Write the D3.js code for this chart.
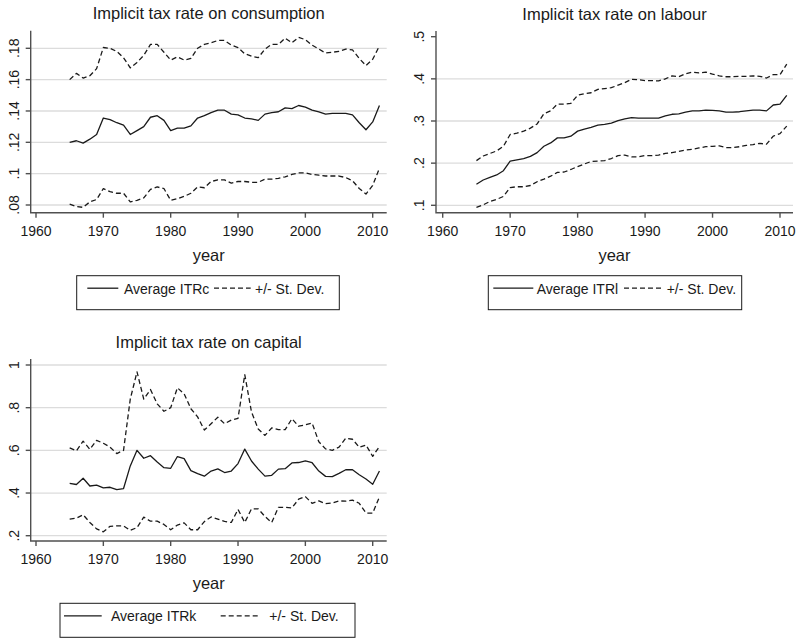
<!DOCTYPE html>
<html>
<head>
<meta charset="utf-8">
<script src="https://cdn.jsdelivr.net/npm/d3@7/dist/d3.min.js"></script>
<style>
body { margin: 0; background: #fff; }
svg { display: block; font-family: "Liberation Sans", Arial, sans-serif; }
.grid { stroke: #dcdcdc; stroke-width: 1.3; }
.axis-line { stroke: #505050; stroke-width: 1.4; fill: none; }
.tick-label { font-size: 14px; fill: #1a1a1a; }
.panel-title, .axis-title { font-size: 16.5px; fill: #1a1a1a; }
.series { fill: none; stroke: #1a1a1a; stroke-width: 1.3; stroke-linejoin: round; }
.series.dashed { stroke-dasharray: 5,3; }
.legend-box { fill: #fff; stroke: #1a1a1a; stroke-width: 1; }
.legend-label { font-size: 14px; fill: #1a1a1a; }
</style>
</head>
<body>
<script>
var years = [1965, 1966, 1967, 1968, 1969, 1970, 1971, 1972, 1973, 1974,
    1975, 1976, 1977, 1978, 1979, 1980, 1981, 1982, 1983, 1984,
    1985, 1986, 1987, 1988, 1989, 1990, 1991, 1992, 1993, 1994,
    1995, 1996, 1997, 1998, 1999, 2000, 2001, 2002, 2003, 2004,
    2005, 2006, 2007, 2008, 2009, 2010, 2011];

var xTicks = [1960, 1970, 1980, 1990, 2000, 2010];

// consumption
var itrcMean = [.120, .121, .1195, .122, .125, .1355, .1345, .1325, .131, .125,
    .1275, .130, .136, .137, .134, .1275, .129, .129, .1305, .1355,
    .137, .139, .1405, .1405, .138, .1375, .1355, .135, .134, .138,
    .139, .1395, .142, .1415, .1435, .1425, .1405, .1395, .138, .1385,
    .1385, .1385, .1375, .1325, .128, .133, .1435];
var itrcUpper = [.160, .164, .161, .1625, .167, .1805, .180, .178, .174, .1675,
    .171, .1755, .1825, .1825, .1775, .1725, .1745, .1725, .1735, .180,
    .1825, .1835, .185, .185, .182, .1805, .1765, .175, .174, .1795,
    .1825, .1825, .1865, .1835, .187, .1855, .182, .1795, .177, .1775,
    .178, .1795, .179, .1735, .169, .173, .1815];
var itrcLower = [.0805, .079, .0785, .082, .0835, .0905, .0885, .0875, .0875, .082,
    .083, .0845, .090, .0915, .0905, .083, .084, .0855, .0875, .0915,
    .091, .095, .096, .096, .094, .095, .095, .0945, .0945, .0965,
    .0965, .097, .098, .0995, .1005, .1005, .0995, .099, .0985, .0985,
    .0985, .0975, .0955, .0905, .087, .0925, .1035];
var itrcTicks = [.08, .10, .12, .14, .16, .18];
var itrcTickLabels = ['.08', '.1', '.12', '.14', '.16', '.18'];
var itrcGrid = [.08, .10, .12, .14, .16, .18];

// labour
var itrlMean = [.150, .160, .166, .172, .182, .205, .208, .211, .216, .225,
    .240, .248, .260, .260, .264, .276, .281, .285, .290, .292,
    .295, .301, .305, .308, .307, .307, .307, .307, .312, .316,
    .317, .321, .324, .324, .326, .325, .324, .321, .321, .322,
    .324, .326, .326, .324, .338, .340, .361];
var itrlUpper = [.206, .217, .223, .229, .240, .268, .271, .276, .283, .293,
    .317, .324, .340, .340, .342, .361, .365, .367, .375, .377,
    .379, .385, .391, .399, .398, .396, .396, .395, .400, .407,
    .405, .412, .416, .414, .416, .411, .407, .405, .405, .406,
    .406, .407, .406, .402, .410, .410, .435];
var itrlLower = [.095, .101, .109, .114, .121, .142, .144, .144, .147, .156,
    .162, .169, .178, .179, .185, .192, .198, .204, .205, .206,
    .211, .218, .219, .215, .215, .218, .218, .219, .223, .225,
    .228, .231, .233, .236, .239, .240, .241, .237, .237, .239,
    .242, .244, .247, .245, .264, .270, .288];
var itrlTicks = [.1, .2, .3, .4, .5];
var itrlTickLabels = ['.1', '.2', '.3', '.4', '.5'];
var itrlGrid = [.1, .2, .3, .4];

// capital
var itrkMean = [.445, .440, .469, .433, .437, .424, .427, .416, .421, .527,
    .600, .563, .575, .545, .519, .516, .571, .561, .505, .491,
    .479, .503, .513, .496, .503, .538, .606, .550, .512, .479,
    .483, .512, .514, .541, .543, .551, .542, .503, .478, .477,
    .492, .509, .509, .486, .466, .441, .503];
var itrkUpper = [.612, .598, .643, .605, .647, .633, .615, .585, .600, .840,
    .968, .840, .885, .818, .783, .800, .893, .865, .795, .757,
    .695, .725, .755, .725, .742, .750, .955, .780, .700, .670,
    .705, .697, .697, .748, .713, .720, .728, .640, .607, .600,
    .615, .657, .652, .615, .625, .572, .618];
var itrkLower = [.278, .282, .298, .262, .232, .218, .244, .246, .246, .225,
    .238, .287, .268, .268, .253, .228, .250, .260, .228, .228,
    .266, .288, .278, .267, .262, .323, .262, .326, .326, .290,
    .262, .333, .333, .330, .371, .383, .352, .363, .350, .353,
    .363, .362, .367, .352, .306, .306, .382];
var itrkTicks = [.2, .4, .6, .8, 1];
var itrkTickLabels = ['.2', '.4', '.6', '.8', '1'];
var itrkGrid = [.2, .4, .6, .8, 1];

var utils = {
    override: function(target, source){
        for(var k in source){ target[k] = source[k]; }
        return target;
    }
};

var svg = d3.select('body').append('svg')
    .attr('width', 799)
    .attr('height', 638);

var drawPanel = function(_config){
    var config = {
        title: null,
        left: null, right: null, top: null, bottom: null,
        xRange: null,
        yDomain: null, yRange: null,
        yTicks: null, yTickLabels: null, yGrid: null,
        mean: null, upper: null, lower: null,
        legend: null
    };
    utils.override(config, _config);

    var scaleX = d3.scaleLinear().domain([1960, 2010]).range(config.xRange);
    var scaleY = d3.scaleLinear().domain(config.yDomain).range(config.yRange);
    var centerX = (config.left + config.right) / 2;

    var g = svg.append('g');

    // gridlines
    g.selectAll('line.grid')
        .data(config.yGrid)
        .enter().append('line')
        .attr('class', 'grid')
        .attr('x1', config.left)
        .attr('x2', config.right)
        .attr('y1', function(d){ return scaleY(d); })
        .attr('y2', function(d){ return scaleY(d); });

    // series
    var line = d3.line()
        .x(function(d, i){ return scaleX(years[i]); })
        .y(function(d){ return scaleY(d); });

    [[config.upper, true], [config.lower, true], [config.mean, false]].forEach(function(s){
        g.append('path')
            .attr('class', s[1] ? 'series dashed' : 'series')
            .attr('d', line(s[0]));
    });

    // axes
    g.append('path')
        .attr('class', 'axis-line')
        .attr('d', 'M' + [[config.left, config.top], [config.left, config.bottom], [config.right, config.bottom]].join('L'));

    g.selectAll('line.xtick')
        .data(xTicks)
        .enter().append('line')
        .attr('class', 'axis-line')
        .attr('x1', function(d){ return scaleX(d); })
        .attr('x2', function(d){ return scaleX(d); })
        .attr('y1', config.bottom)
        .attr('y2', config.bottom + 5);

    g.selectAll('text.xlabel')
        .data(xTicks)
        .enter().append('text')
        .attr('class', 'tick-label')
        .attr('text-anchor', 'middle')
        .attr('x', function(d){ return scaleX(d); })
        .attr('y', config.bottom + 23)
        .text(function(d){ return d; });

    g.selectAll('line.ytick')
        .data(config.yTicks)
        .enter().append('line')
        .attr('class', 'axis-line')
        .attr('x1', config.left - 5)
        .attr('x2', config.left)
        .attr('y1', function(d){ return scaleY(d); })
        .attr('y2', function(d){ return scaleY(d); });

    g.selectAll('text.ylabel')
        .data(config.yTicks)
        .enter().append('text')
        .attr('class', 'tick-label')
        .attr('text-anchor', 'middle')
        .attr('transform', function(d){ return 'translate(' + (config.left - 12) + ',' + scaleY(d) + ') rotate(-90)'; })
        .text(function(d, i){ return config.yTickLabels[i]; });

    // titles
    g.append('text')
        .attr('class', 'panel-title')
        .attr('text-anchor', 'middle')
        .attr('x', centerX)
        .attr('y', config.top - 11.5)
        .text(config.title);

    g.append('text')
        .attr('class', 'axis-title')
        .attr('text-anchor', 'middle')
        .attr('x', centerX)
        .attr('y', config.bottom + 48)
        .text('year');

    // legend
    var lg = config.legend;
    var legend = g.append('g')
        .attr('transform', 'translate(' + lg.x + ',' + lg.y + ')');
    legend.append('rect')
        .attr('class', 'legend-box')
        .attr('width', lg.width)
        .attr('height', 34);
    legend.append('line')
        .attr('class', 'series')
        .attr('x1', lg.solid[0]).attr('x2', lg.solid[1])
        .attr('y1', 12.5).attr('y2', 12.5);
    legend.append('text')
        .attr('class', 'legend-label')
        .attr('x', lg.solid[2])
        .attr('y', 18)
        .text(lg.label);
    legend.append('line')
        .attr('class', 'series dashed')
        .attr('x1', lg.dashed[0]).attr('x2', lg.dashed[1])
        .attr('y1', 12.5).attr('y2', 12.5);
    legend.append('text')
        .attr('class', 'legend-label')
        .attr('x', lg.dashed[2])
        .attr('y', 18)
        .text('+/- St. Dev.');
};

drawPanel({
    title: 'Implicit tax rate on consumption',
    left: 30.7, right: 386.7, top: 30.7, bottom: 212.7,
    xRange: [36, 372.7],
    yDomain: [.08, .18], yRange: [205, 48.3],
    yTicks: itrcTicks, yTickLabels: itrcTickLabels, yGrid: itrcGrid,
    mean: itrcMean, upper: itrcUpper, lower: itrcLower,
    legend: {x: 76.7, y: 275.7, width: 262.6, solid: [10.6, 41.6, 47.3], dashed: [137.3, 174, 178.3], label: 'Average ITRc'}
});

drawPanel({
    title: 'Implicit tax rate on labour',
    left: 436, right: 793, top: 31, bottom: 212.7,
    xRange: [442.7, 780],
    yDomain: [.1, .5], yRange: [205.3, 36.7],
    yTicks: itrlTicks, yTickLabels: itrlTickLabels, yGrid: itrlGrid,
    mean: itrlMean, upper: itrlUpper, lower: itrlLower,
    legend: {x: 488.3, y: 275.7, width: 253.4, solid: [5, 45, 48.4], dashed: [135.7, 175, 178.4], label: 'Average ITRl'}
});

drawPanel({
    title: 'Implicit tax rate on capital',
    left: 30.7, right: 386.7, top: 359, bottom: 541,
    xRange: [36, 372.7],
    yDomain: [.2, 1], yRange: [535.7, 365],
    yTicks: itrkTicks, yTickLabels: itrkTickLabels, yGrid: itrkGrid,
    mean: itrkMean, upper: itrkUpper, lower: itrkLower,
    legend: {x: 60, y: 603.3, width: 295, solid: [4, 41.7, 51], dashed: [160.7, 200, 209.3], label: 'Average ITRk'}
});
</script>
</body>
</html>
